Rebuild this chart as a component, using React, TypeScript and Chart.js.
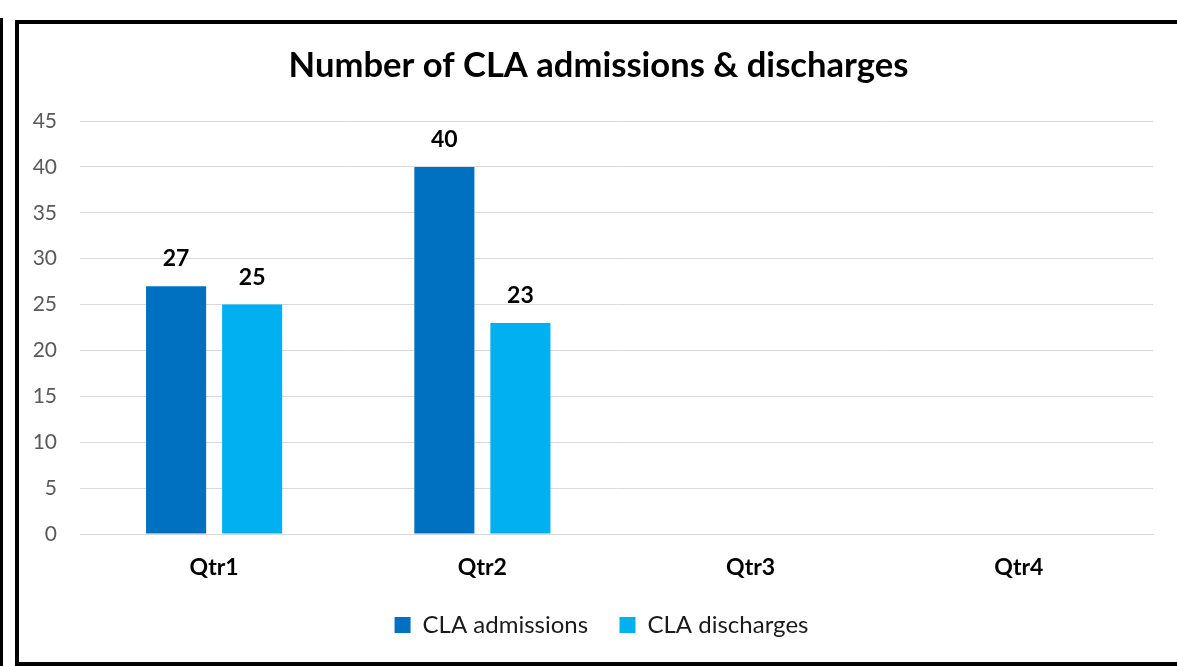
import React, { useEffect, useRef } from "react";
import { Chart, registerables } from "chart.js";

Chart.register(...registerables);

const categories = ["Qtr1", "Qtr2", "Qtr3", "Qtr4"];
const admissions = [27, 40, null, null];
const discharges = [25, 23, null, null];
const seriesNames = ["CLA admissions", "CLA discharges"];
const titleText = "Number of CLA admissions & discharges";

const FONT = "Lato, 'Open Sans', sans-serif";

const dataLabelPlugin = {
  id: "dataLabels",
  afterDatasetsDraw(chart: any) {
    const ctx = chart.ctx;
    ctx.save();
    ctx.font = `bold 23px ${FONT}`;
    ctx.fillStyle = "#000000";
    ctx.textAlign = "center";
    ctx.textBaseline = "alphabetic";
    chart.data.datasets.forEach((ds: any, i: number) => {
      const meta = chart.getDatasetMeta(i);
      meta.data.forEach((bar: any, j: number) => {
        const v = ds.data[j];
        if (v === null || v === undefined) return;
        ctx.fillText(String(v), bar.x, bar.y - 20);
      });
    });
    ctx.restore();
  },
};

// The original chart object is wider than the visible frame, so its title and legend sit right of the plot's centre
const shiftPlugin = {
  id: "shiftBoxes",
  afterLayout(chart: any) {
    if (chart.titleBlock) {
      chart.titleBlock.left += 22;
      chart.titleBlock.right += 22;
    }
    if (chart.legend) {
      chart.legend.left += 25;
      chart.legend.right += 25;
    }
  },
};

export default function App() {
  const ref = useRef<HTMLCanvasElement>(null);
  useEffect(() => {
    if (!ref.current) return;
    const chart = new Chart(ref.current, {
      type: "bar",
      data: {
        labels: categories,
        datasets: [
          {
            label: seriesNames[0],
            data: admissions,
            backgroundColor: "#0070C0",
            categoryPercentage: 0.567,
            barPercentage: 0.79,
          },
          {
            label: seriesNames[1],
            data: discharges,
            backgroundColor: "#00B0F0",
            categoryPercentage: 0.567,
            barPercentage: 0.79,
          },
        ],
      },
      options: {
        animation: false,
        responsive: false,
        maintainAspectRatio: false,
        layout: { padding: { left: 0, right: 24, top: 0, bottom: 19 } },
        plugins: {
          title: {
            display: true,
            text: titleText,
            color: "#000000",
            font: { family: FONT, size: 34.6, weight: "bold", lineHeight: 1.2 },
            padding: { top: 45.2, bottom: 34.3 },
          },
          legend: {
            position: "bottom",
            labels: {
              color: "#1a1a1a",
              font: { family: FONT, size: 24 },
              boxWidth: 16,
              boxHeight: 16,
              padding: 31.4,
            },
          },
          tooltip: { enabled: false },
        },
        scales: {
          x: {
            afterFit: (s: any) => {
              s.height = 47.6;
            },
            grid: { display: false, drawTicks: false },
            border: { display: true, color: "#D9D9D9" },
            ticks: {
              color: "#000000",
              font: { family: FONT, size: 23, weight: "bold" },
              padding: 20,
            },
          },
          y: {
            min: 0,
            max: 45,
            afterFit: (s: any) => {
              s.width = 80;
            },
            grid: { color: "#D9D9D9", lineWidth: 1, drawTicks: false },
            border: { display: false },
            ticks: {
              stepSize: 5,
              color: "#595959",
              font: { family: FONT, size: 21 },
              padding: 23,
            },
          },
        },
      },
      plugins: [dataLabelPlugin, shiftPlugin],
    });
    return () => chart.destroy();
  }, []);

  return (
    <div style={{ position: "fixed", left: 0, top: 0, width: 1177, height: 666, background: "#fff", overflow: "hidden" }}>
      <div style={{ position: "absolute", left: 0, top: 18, width: 3, height: 648, background: "#000" }} />
      <div
        style={{
          position: "absolute",
          left: 15,
          top: 20,
          width: 1200,
          height: 646,
          border: "4px solid #000",
          boxSizing: "border-box",
        }}
      />
      <canvas ref={ref} width={1177} height={666} style={{ position: "absolute", left: 0, top: 0, width: 1177, height: 666 }} />
    </div>
  );
}
